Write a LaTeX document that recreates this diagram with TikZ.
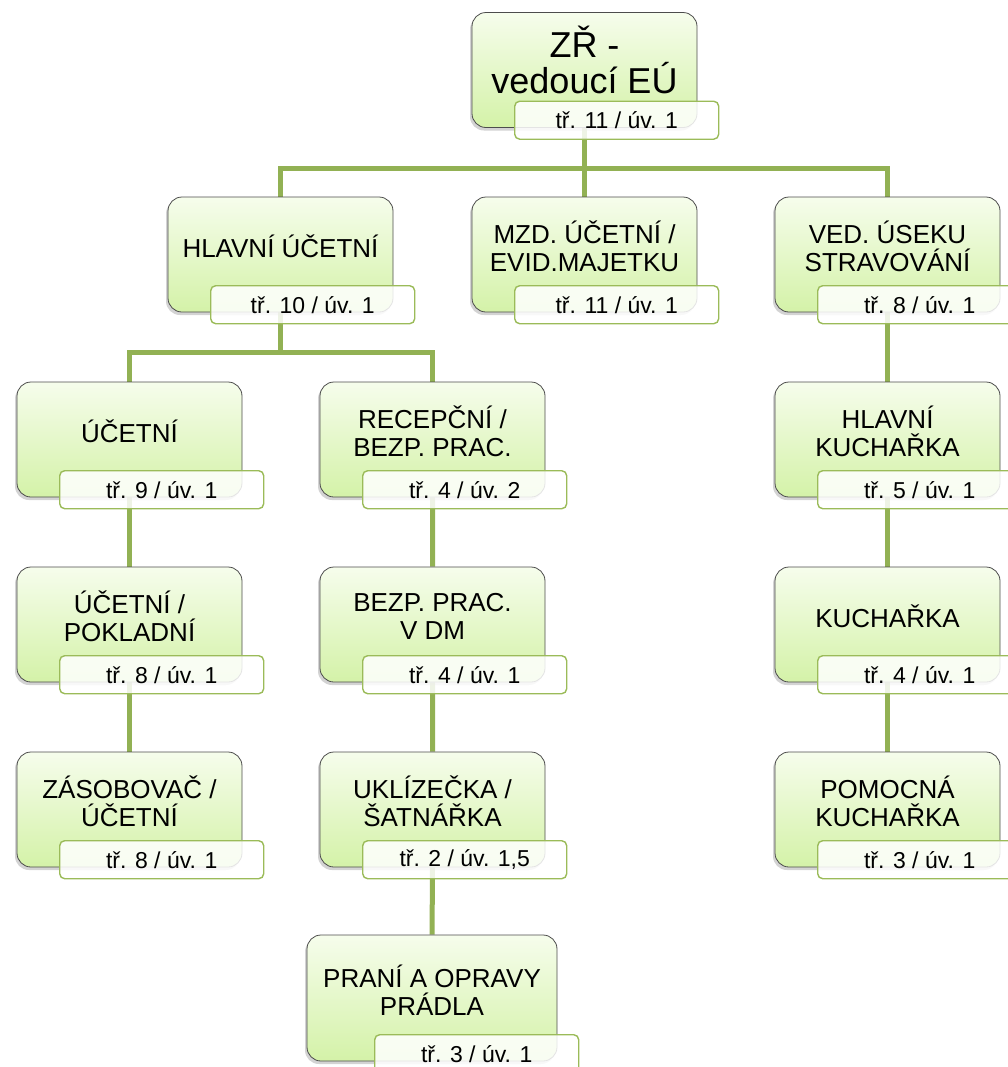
\documentclass[tikz,border=0pt]{standalone}
\usepackage{fontspec}
\setmainfont{Liberation Sans}
\usetikzlibrary{shadows,backgrounds}

\definecolor{boxtop}{RGB}{246,253,236}
\definecolor{boxbot}{RGB}{212,242,168}
\definecolor{vetev}{RGB}{146,177,84}
\definecolor{tagline}{RGB}{155,187,89}

\tikzset{
  box/.style={rectangle, rounded corners=7pt, draw=gray!60!black, line width=0.4pt,
    top color=boxtop, bottom color=boxbot, minimum width=112.5pt, minimum height=57.5pt,
    drop shadow={shadow xshift=-1pt, shadow yshift=-1.5pt, opacity=0.35}},
  boxtext/.style={align=center, inner sep=0pt, font=\fontsize{13}{14}\selectfont},
  tag/.style={anchor=south east, draw=tagline, line width=0.7pt, fill=white,
    fill opacity=0.85, text opacity=1, rounded corners=2.5pt, minimum width=102pt,
    minimum height=19pt, inner sep=0pt, font=\fontsize{11.5}{13}\selectfont},
  conn/.style={draw=vetev, line width=2.5pt},
}

% jeden utvar: box, nazev a tarifni stitek
\newcommand{\utvar}[5][]{%
  \node[box,#1] (#2) at (#3) {};
  \node[boxtext] (#2-x) at ([yshift=4pt]#2.center) {#4};
  \node[tag] (#2-t) at ([xshift=11pt,yshift=-6pt]#2.south east) {#5};
}

\begin{document}
\begin{tikzpicture}[x=0.5pt,y=-0.5pt]
  \useasboundingbox (0,0) rectangle (1008,1067);

  % vedeni
  \node[box] (zr) at (584.5,70) {};
  \node[boxtext, font=\fontsize{18}{18}\selectfont] (zr-x) at ([yshift=5pt]zr.center) {ZŘ -\\vedoucí EÚ};
  \node[tag] (zr-t) at ([xshift=11pt,yshift=-6pt]zr.south east) {tř. 11 / úv. 1};

  % 2. uroven
  \utvar{hu}{280.5,254.5}{HLAVNÍ ÚČETNÍ}{tř. 10 / úv. 1}
  \utvar{mzd}{584.5,254.5}{MZD. ÚČETNÍ /\\EVID.MAJETKU}{tř. 11 / úv. 1}
  \utvar{ved}{887.5,254.5}{VED. ÚSEKU\\STRAVOVÁNÍ}{tř. 8 / úv. 1}

  % ucetni
  \utvar{uc}{129.5,439.5}{ÚČETNÍ}{tř. 9 / úv. 1}
  \utvar{up}{129.5,624.5}{ÚČETNÍ /\\POKLADNÍ}{tř. 8 / úv. 1}
  \utvar{zas}{129.5,809.5}{ZÁSOBOVAČ /\\ÚČETNÍ}{tř. 8 / úv. 1}

  % provoz
  \utvar{rec}{432.5,439.5}{RECEPČNÍ /\\BEZP. PRAC.}{tř. 4 / úv. 2}
  \utvar{bdm}{432.5,624.5}{BEZP. PRAC.\\V DM}{tř. 4 / úv. 1}
  \utvar{ukl}{432.5,809.5}{UKLÍZEČKA /\\ŠATNÁŘKA}{tř. 2 / úv. 1,5}
  \utvar[minimum width=125pt, minimum height=63pt]{pra}{432,998}{PRANÍ A OPRAVY\\PRÁDLA}{tř. 3 / úv. 1}

  % stravovani
  \utvar{hk}{887.5,439.5}{HLAVNÍ\\KUCHAŘKA}{tř. 5 / úv. 1}
  \utvar{kuch}{887.5,624.5}{KUCHAŘKA}{tř. 4 / úv. 1}
  \utvar{pom}{887.5,809.5}{POMOCNÁ\\KUCHAŘKA}{tř. 3 / úv. 1}

  \coordinate (b1) at (584.5,168);
  \coordinate (b2) at (280.5,352);

  \begin{scope}[on background layer]
    \draw[conn] (zr) -- (b1) -- (mzd);
    \draw[conn] (hu) |- (b1) -| (ved);
    \draw[conn] (hu) -- (b2);
    \draw[conn] (uc) |- (b2) -| (rec);
    \draw[conn] (uc) -- (up) -- (zas);
    \draw[conn] (rec) -- (bdm) -- (ukl) -- (pra);
    \draw[conn] (ved) -- (hk) -- (kuch) -- (pom);
  \end{scope}
\end{tikzpicture}
\end{document}
